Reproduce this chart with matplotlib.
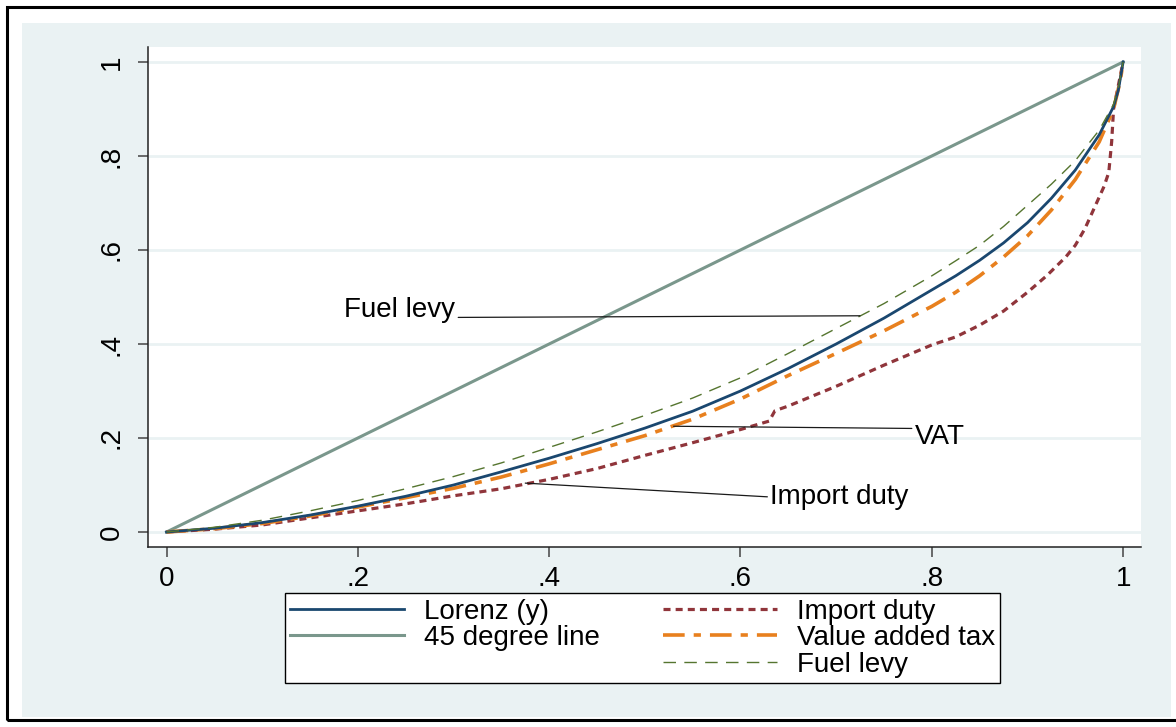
import matplotlib
matplotlib.use('Agg')
import matplotlib.pyplot as plt
from matplotlib.lines import Line2D
from matplotlib.patches import Rectangle

plt.rcParams['font.family'] = ['Liberation Sans', 'DejaVu Sans']

# share of population (x) and cumulative shares (y)
lorenz_x = [0, 0.05, 0.1, 0.15, 0.2, 0.25, 0.3, 0.35, 0.4, 0.45, 0.5, 0.55, 0.6, 0.65, 0.7, 0.75, 0.8, 0.825, 0.85, 0.875, 0.9, 0.925, 0.95, 0.975, 0.99, 0.995, 1.0]
lorenz_y = [0, 0.008, 0.02, 0.036, 0.055, 0.076, 0.10, 0.128, 0.157, 0.188, 0.221, 0.257, 0.30, 0.348, 0.40, 0.455, 0.515, 0.545, 0.578, 0.615, 0.658, 0.71, 0.77, 0.845, 0.905, 0.94, 1.0]

fuel_x = [0, 0.05, 0.1, 0.15, 0.2, 0.25, 0.3, 0.35, 0.4, 0.45, 0.5, 0.55, 0.6, 0.65, 0.7, 0.75, 0.8, 0.825, 0.85, 0.875, 0.9, 0.925, 0.95, 0.975, 0.99, 0.995, 1.0]
fuel_y = [0, 0.01, 0.025, 0.045, 0.067, 0.092, 0.118, 0.147, 0.18, 0.213, 0.248, 0.285, 0.328, 0.38, 0.433, 0.486, 0.545, 0.577, 0.61, 0.65, 0.695, 0.74, 0.79, 0.855, 0.91, 0.945, 1.0]

vat_x = [0, 0.05, 0.1, 0.15, 0.2, 0.25, 0.3, 0.35, 0.4, 0.45, 0.5, 0.55, 0.6, 0.65, 0.7, 0.75, 0.8, 0.825, 0.85, 0.875, 0.9, 0.925, 0.95, 0.975, 0.99, 0.997, 1.0]
vat_y = [0, 0.007, 0.018, 0.034, 0.053, 0.073, 0.093, 0.117, 0.145, 0.175, 0.205, 0.24, 0.283, 0.333, 0.38, 0.428, 0.48, 0.51, 0.545, 0.585, 0.63, 0.685, 0.75, 0.83, 0.90, 0.96, 1.0]

imp_x = [0, 0.05, 0.1, 0.15, 0.2, 0.25, 0.3, 0.35, 0.4, 0.45, 0.5, 0.55, 0.6, 0.63, 0.636, 0.65, 0.7, 0.75, 0.8, 0.825, 0.85, 0.875, 0.9, 0.92, 0.94, 0.95, 0.96, 0.97, 0.98, 0.985, 0.988, 0.99, 1.0]
imp_y = [0, 0.006, 0.015, 0.03, 0.045, 0.06, 0.077, 0.092, 0.112, 0.135, 0.163, 0.19, 0.218, 0.236, 0.258, 0.268, 0.31, 0.355, 0.398, 0.415, 0.44, 0.47, 0.51, 0.545, 0.585, 0.61, 0.645, 0.69, 0.735, 0.765, 0.83, 0.90, 1.0]

diag = [0, 1]

ticks = [0, 0.2, 0.4, 0.6, 0.8, 1]
tick_labels = ['0', '.2', '.4', '.6', '.8', '1']

labels = ['Lorenz (y)', '45 degree line', 'Import duty', 'Value added tax', 'Fuel levy']

# annotation anchors on the curves and where the text sits
notes = [('Fuel levy', (0.725, 0.46), (0.302, 0.472), 'right', (1, 0.22)),
         ('VAT', (0.53, 0.225), (0.782, 0.202), 'left', (0, 0.83)),
         ('Import duty', (0.375, 0.104), (0.631, 0.0745), 'left', (0, 0.5))]

fs = 20
bg = '#EAF2F3'

fig = plt.figure(figsize=(11.76, 7.27), dpi=100)
fig.patch.set_facecolor('white')
fig.patches.append(Rectangle((0.0187, 0.0138), 0.977, 0.9546, transform=fig.transFigure,
                             facecolor=bg, edgecolor='none', zorder=-2))
fig.patches.append(Rectangle((0.006, 0.0096), 1.2, 0.9808, transform=fig.transFigure,
                             facecolor='none', edgecolor='black', lw=2.2, zorder=-1))

ax = fig.add_axes([0.1259, 0.2476, 0.8444, 0.6878])
ax.set_zorder(2)
ax.set_facecolor('white')
ax.set_xlim(-0.01934, 1.01876)
ax.set_ylim(-0.0319, 1.0319)

for t in ticks:
    ax.axhline(t, color=bg, lw=2, zorder=0)

l1, = ax.plot(lorenz_x, lorenz_y, color='#1A476F', lw=2.0, zorder=4)
l2, = ax.plot(diag, diag, color='#7A978C', lw=2.2, zorder=3)
l3, = ax.plot(imp_x, imp_y, color='#90353B', lw=2.3, ls=(0, (2.2, 1.6)), zorder=3)
l4, = ax.plot(vat_x, vat_y, color='#E8801E', lw=2.6, ls=(0, (6, 2.5, 2, 2.5)), zorder=3)
l5, = ax.plot(fuel_x, fuel_y, color='#55752F', lw=1.0, ls=(0, (9, 6)), zorder=5)

for txt, xy, xyt, ha, rp in notes:
    ax.annotate(txt, xy=xy, xytext=xyt, fontsize=fs, ha=ha, va='center',
                arrowprops=dict(arrowstyle='-', color='#1a1a1a', lw=0.9,
                                shrinkA=0, shrinkB=0, relpos=rp), zorder=6)

for s in ['top', 'right']:
    ax.spines[s].set_visible(False)
for s in ['left', 'bottom']:
    ax.spines[s].set_color('#222222')
    ax.spines[s].set_linewidth(1.1)

ax.set_xticks(ticks)
ax.set_xticklabels(tick_labels, fontsize=fs)
ax.set_yticks(ticks)
ax.set_yticklabels(tick_labels, fontsize=fs, rotation=90, va='center')
ax.tick_params(direction='out', length=7, width=1.1, color='#444444', pad=7)
ax.tick_params(axis='y', pad=10)

blank = Line2D([], [], color='none')
handles = [l1, l2, blank, l3, l4, l5]
leg_labels = [labels[0], labels[1], '', labels[2], labels[3], labels[4]]
leg = fig.legend(handles, leg_labels, ncol=2, loc='upper center',
                 bbox_to_anchor=(0.5463, 0.1843), fontsize=fs, frameon=True,
                 fancybox=False, edgecolor='black', facecolor='white', framealpha=1,
                 handlelength=4.1, handletextpad=0.7, columnspacing=2.3,
                 labelspacing=0.02, borderpad=0.2, borderaxespad=0)
leg.get_frame().set_linewidth(1.0)

fig.savefig('out.png', dpi=100, facecolor='white')
